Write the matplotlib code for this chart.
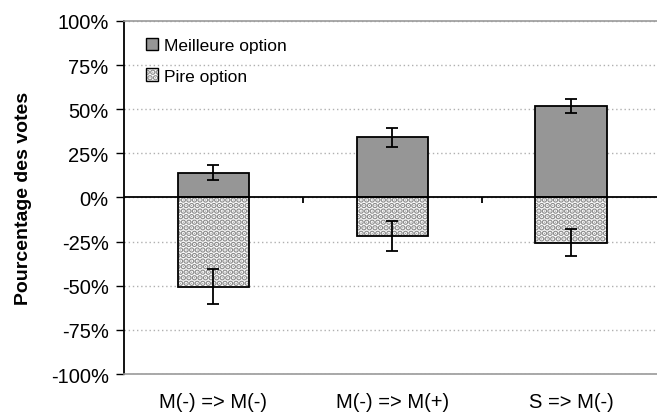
import numpy as np
import matplotlib
matplotlib.use("Agg")
import matplotlib.pyplot as plt
from matplotlib.patches import Patch
from matplotlib.legend_handler import HandlerTuple
from matplotlib.ticker import FuncFormatter

plt.rcParams['font.family'] = ['Liberation Sans', 'DejaVu Sans']
plt.rcParams['hatch.linewidth'] = 3.0

# data (percent of votes)
categories = ['M(-) => M(-)', 'M(-) => M(+)', 'S => M(-)']
best = [14, 34, 52]
best_err = [4.2, 5.4, 4.0]
worst = [-50.5, -22, -25.5]
worst_err = [9.8, 8.5, 7.6]
yticks = [-100, -75, -50, -25, 0, 25, 50, 75, 100]

x = np.arange(len(categories))
w = 0.40
stipple = '#8c8c8c'

fig = plt.figure(figsize=(6.57, 4.14), dpi=100)
ax = fig.add_axes([0.1887, 0.0942, 0.817, 0.8527])

# gridlines
ax.set_axisbelow(True)
ax.yaxis.grid(True, color='#b0b0b0', linestyle=(0, (1, 2)), linewidth=1)

# best option bars
ax.bar(x, best, w, color='#969696', edgecolor='black', linewidth=1.3, zorder=2)
ax.errorbar(x, best, yerr=best_err, fmt='none', ecolor='black',
            elinewidth=1.3, capsize=4.5, capthick=1.3, zorder=5)

# worst option bars: stipple layer + outline layer
ax.bar(x, worst, w, color='white', edgecolor=stipple, hatch='...',
       linewidth=0, zorder=2)
ax.bar(x, worst, w, color='none', edgecolor='black', linewidth=1.3, zorder=3)
ax.errorbar(x, worst, yerr=worst_err, fmt='none', ecolor='black',
            elinewidth=1.3, capsize=4.5, capthick=1.3, zorder=5)

# zero line
ax.axhline(0, color='black', linewidth=1.3, zorder=4)

ax.set_xlim(-0.5, len(categories) - 0.5)
ax.set_ylim(-100, 100)
ax.set_yticks(yticks)
ax.yaxis.set_major_formatter(FuncFormatter(lambda v, p: '%d%%' % v))
ax.set_xticks(x)
ax.set_xticklabels(categories)

ax.tick_params(axis='y', direction='out', length=6, width=1, pad=5,
               labelsize=14.5, color='black')
ax.tick_params(axis='x', length=0, pad=13, labelsize=14.5)

for s in ['top', 'bottom']:
    ax.spines[s].set_color('#9a9a9a')
    ax.spines[s].set_linewidth(1.2)
ax.spines['right'].set_visible(False)
ax.spines['left'].set_linewidth(1.3)

# small category separators on the zero line
sec = ax.secondary_xaxis(0.5)
sec.set_xticks([0.5, 1.5])
sec.set_xticklabels(['', ''])
sec.tick_params(axis='x', direction='in', length=4, width=1.3, color='black')
for s in sec.spines.values():
    s.set_visible(False)

ax.set_ylabel('Pourcentage des votes', fontsize=14, fontweight='bold')
ax.yaxis.set_label_coords(-0.172, 0.5)

h_best = Patch(facecolor='#969696', edgecolor='black', linewidth=1)
h_worst = (Patch(facecolor='white', edgecolor=stipple, hatch='...', linewidth=0),
           Patch(facecolor='none', edgecolor='black', linewidth=1))
ax.legend([h_best, h_worst], ['Meilleure option', 'Pire option'],
          handler_map={tuple: HandlerTuple(ndivide=1, pad=0)},
          loc='upper left', bbox_to_anchor=(0.041, 0.953), frameon=False,
          fontsize=12.5, handlelength=0.7, handleheight=0.7, handletextpad=0.35,
          labelspacing=0.9, borderpad=0, borderaxespad=0)

fig.savefig('out.png', dpi=100)
